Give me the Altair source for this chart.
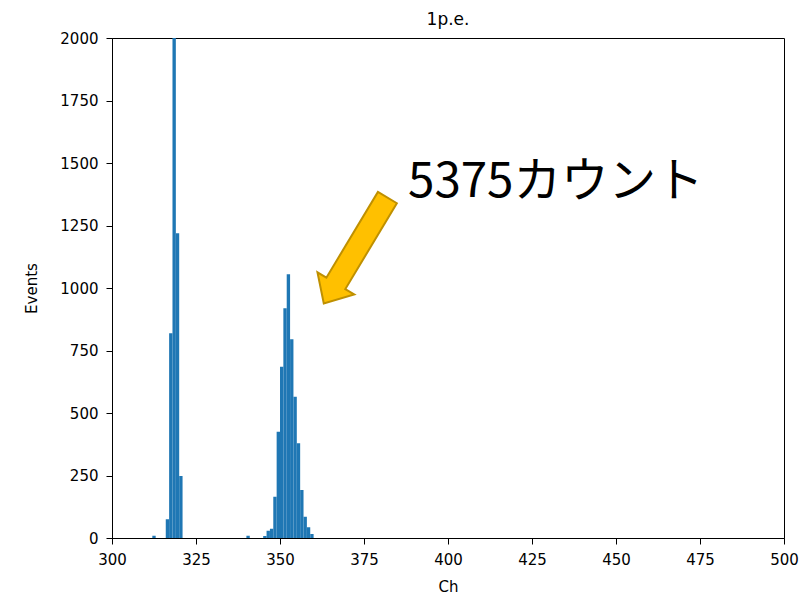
import altair as alt
import pandas as pd

# histogram data (channel bin start, counts)
channels = [312, 316, 317, 318, 319, 320, 340, 345, 346, 347, 348, 349, 350,
            351, 352, 353, 354, 355, 356, 357, 358, 359]
counts = [9, 75, 819, 2600, 1219, 248, 9, 8, 29, 37, 165, 425, 685,
          919, 1055, 795, 565, 379, 192, 85, 43, 16]

x_ticks = list(range(300, 501, 25))
y_ticks = list(range(0, 2001, 250))

# annotation
label_text = ["5375カウント"]
label_ch = [388.1]
label_events = [1364]
arrow_ch = [372.5]
arrow_events = [1150]

df = pd.DataFrame({"ch": channels,
                   "ch_end": [c + 1 for c in channels],
                   "count": counts})
lab_df = pd.DataFrame({"ch": label_ch, "count": label_events, "t": label_text})
arr_df = pd.DataFrame({"ch": arrow_ch, "count": arrow_events})

xs = alt.Scale(domain=[300, 500], nice=False, zero=False)
ys = alt.Scale(domain=[0, 2000], nice=False)

bars = alt.Chart(df).mark_rect(color="#1f77b4", clip=True).encode(
    x=alt.X("ch:Q", scale=xs, axis=alt.Axis(values=x_ticks, title="Ch", format="d")),
    x2="ch_end:Q",
    y=alt.Y("count:Q", scale=ys, axis=alt.Axis(values=y_ticks, title="Events", format="d")),
    y2=alt.datum(0),
)

arrow_path = ("M -0.95 -0.17 L 0.59 -0.17 L 0.59 -0.33 L 0.95 0 "
              "L 0.59 0.33 L 0.59 0.17 L -0.95 0.17 Z")
arrow = alt.Chart(arr_df).mark_point(
    shape=arrow_path, size=16900, angle=121, filled=True,
    fill="#FFC000", stroke="#BF9000", strokeWidth=2, opacity=1,
).encode(
    x=alt.X("ch:Q", scale=xs),
    y=alt.Y("count:Q", scale=ys),
)

label = alt.Chart(lab_df).mark_text(
    align="left", baseline="alphabetic", fontSize=47.5,
    font="Noto Sans CJK JP", color="black",
).encode(
    x=alt.X("ch:Q", scale=xs),
    y=alt.Y("count:Q", scale=ys),
    text="t:N",
)

chart = alt.layer(bars, arrow, label).properties(
    width=672, height=500,
    title=alt.TitleParams("1p.e.", fontSize=17, font="DejaVu Sans",
                          fontWeight="normal", offset=2, color="black"),
    padding={"left": 104, "top": 30, "right": 17, "bottom": 75},
    autosize="none",
).configure_view(
    stroke="black", strokeWidth=1,
).configure_axis(
    grid=False, domainColor="black", tickColor="black", tickSize=6,
    labelFont="DejaVu Sans", labelFontSize=15, labelColor="black",
    titleFont="DejaVu Sans", titleFontSize=15, titleFontWeight="normal",
    titleColor="black", labelFlush=False,
).configure_axisY(titlePadding=20, labelPadding=8).configure_axisX(titlePadding=12, labelPadding=8)

chart.save("out.html", embed_options={"renderer": "svg", "actions": False})
